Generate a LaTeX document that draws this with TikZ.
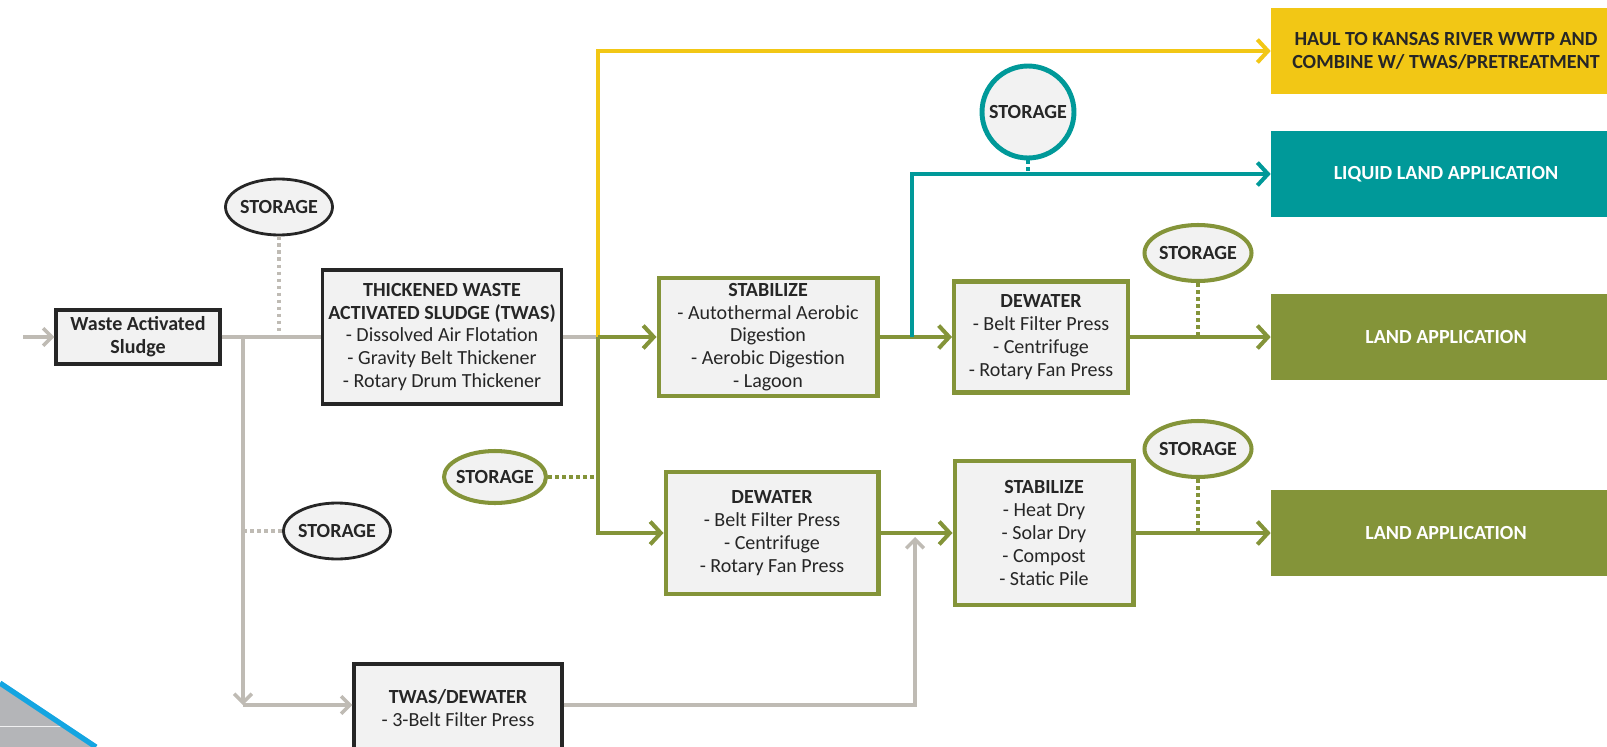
\documentclass[tikz,border=0pt]{standalone}
\usepackage{fontspec}
\setmainfont{Carlito}
\usepackage{tikz}
\usetikzlibrary{arrows.meta,shapes.geometric}
\definecolor{sgreen}{RGB}{132,148,57}
\definecolor{steal}{RGB}{0,153,153}
\definecolor{syellow}{RGB}{242,199,21}
\definecolor{sgray}{RGB}{191,187,180}
\definecolor{sfill}{RGB}{242,242,242}
\definecolor{sink}{RGB}{38,38,38}
\definecolor{sblue}{RGB}{20,165,225}
\definecolor{sshade}{RGB}{180,181,184}
\tikzset{>={Straight Barb[length=6pt,width=13pt]}}
\tikzset{
    txt/.style={font=\fontsize{11.4}{13}\selectfont,text=sink,align=center},
    stage/.style={rectangle,draw=sink,fill=sfill,line width=1.8pt,txt,inner sep=2pt},
    gstage/.style={stage,draw=sgreen,line width=2.3pt},
    outlet/.style={rectangle,fill=#1,txt,text=white,font=\bfseries\fontsize{11.4}{13}\selectfont,minimum width=7cm,minimum height=1.72cm},
    store/.style={ellipse,draw=sink,fill=sfill,line width=1.6pt,txt,font=\bfseries\fontsize{11.4}{13}\selectfont,minimum width=2.14cm,minimum height=1.12cm,inner xsep=-3pt,inner ysep=0pt},
    gstore/.style={store,draw=sgreen,line width=2.3pt},
    gray flow/.style={draw=sgray,line width=2pt,>={Straight Barb[length=5pt,width=10pt]}},
    flow/.style={draw=#1,line width=2.3pt},
    dots/.style={draw=#1,line width=2pt,dash pattern=on 2pt off 2pt},
}
\begin{document}
\begin{tikzpicture}[x=0.02cm,y=-0.02cm]
	\useasboundingbox (0,0) rectangle (1607,747);
	\fill[sshade] (0,683) -- (96,747) -- (0,747) -- cycle;
	\draw[white!80!sshade,line width=0.5pt] (0,726) -- (64,726);
	\draw[sblue,line width=3pt] (0,683) -- (96,747);

	\node[stage,minimum width=3.28cm,minimum height=1.08cm,font=\bfseries\fontsize{11.4}{13}\selectfont] (was) at (138,337) {Waste Activated\\Sludge};
	\node[store] (store1) at (279,207) {STORAGE};
	\node[stage,minimum width=4.78cm,minimum height=2.68cm] (twas) at (442,337) {\textbf{THICKENED WASTE}\\\textbf{ACTIVATED SLUDGE (TWAS)}\\- Dissolved Air Flotation\\- Gravity Belt Thickener\\- Rotary Drum Thickener};
	\node[store] (store2) at (337,531) {STORAGE};
	\node[stage,minimum width=4.16cm,minimum height=1.76cm] (twasdew) at (458,708) {\textbf{TWAS/DEWATER}\\- 3-Belt Filter Press};
	\node[gstage,minimum width=4.38cm,minimum height=2.36cm] (stab1) at (768,337) {\textbf{STABILIZE}\\- Autothermal Aerobic\\Digestion\\- Aerobic Digestion\\- Lagoon};
	\node[gstage,minimum width=3.48cm,minimum height=2.22cm] (dew1) at (1041,337) {\textbf{DEWATER}\\- Belt Filter Press\\- Centrifuge\\- Rotary Fan Press};
	\node[gstage,minimum width=4.26cm,minimum height=2.44cm] (dew2) at (772,533) {\textbf{DEWATER}\\- Belt Filter Press\\- Centrifuge\\- Rotary Fan Press};
	\node[gstage,minimum width=3.58cm,minimum height=2.88cm] (stab2) at (1044,533) {\textbf{STABILIZE}\\- Heat Dry\\- Solar Dry\\- Compost\\- Static Pile};
	\node[gstore,minimum width=2.04cm,minimum height=1.04cm] (store3) at (495,477) {STORAGE};
	\node[store,circle,draw=steal,line width=2.8pt,minimum size=1.84cm] (store4) at (1028,112) {STORAGE};
	\node[gstore] (store5) at (1198,253) {STORAGE};
	\node[gstore] (store6) at (1198,449) {STORAGE};
	\node[outlet=syellow,text=sink] (haul) at (1446,51) {HAUL TO KANSAS RIVER WWTP AND\\COMBINE W/ TWAS/PRETREATMENT};
	\node[outlet=steal] (liquid) at (1446,174) {LIQUID LAND APPLICATION};
	\node[outlet=sgreen] (land1) at (1446,337) {LAND APPLICATION};
	\node[outlet=sgreen] (land2) at (1446,533) {LAND APPLICATION};

	\coordinate (feed) at (23,337);
	\coordinate (split) at (243,337);
	\coordinate (corner) at (243,705);
	\coordinate (junction) at (598,337);
	\coordinate (branch) at (912,337);
	\coordinate (rise) at (915,705);
	\coordinate (merge) at (915,537);

	\draw[gray flow,->] (feed) -- (was);
	\draw[gray flow] (was) -- (twas);
	\draw[dots=sgray] (store1) -- (store1 |- split);
	\draw[gray flow,->] (split) -- (corner);
	\draw[gray flow,->] (corner) -- (twasdew.west |- corner);
	\draw[dots=sgray] (split |- store2) -- (store2);
	\draw[gray flow,->] (twasdew.east |- rise) -- (rise) -- (merge);
	\draw[gray flow] (twas) -- (junction);
	\draw[flow=syellow,->] (junction) |- (haul);
	\draw[flow=sgreen,->] (junction) -- (stab1);
	\draw[flow=sgreen,->] (junction) |- (dew2);
	\draw[dots=sgreen,line width=2.3pt] (store3) -- (junction |- store3);
	\draw[flow=sgreen,->] (stab1) -- (dew1);
	\draw[flow=steal,->] (branch) |- (liquid);
	\draw[dots=steal,line width=2.3pt] (store4) -- (store4 |- liquid);
	\draw[flow=sgreen,->] (dew1) -- (land1);
	\draw[dots=sgreen,line width=2.3pt] (store5) -- (store5 |- land1);
	\draw[flow=sgreen,->] (dew2) -- (stab2);
	\draw[flow=sgreen,->] (stab2) -- (land2);
	\draw[dots=sgreen,line width=2.3pt] (store6) -- (store6 |- land2);
\end{tikzpicture}
\end{document}
